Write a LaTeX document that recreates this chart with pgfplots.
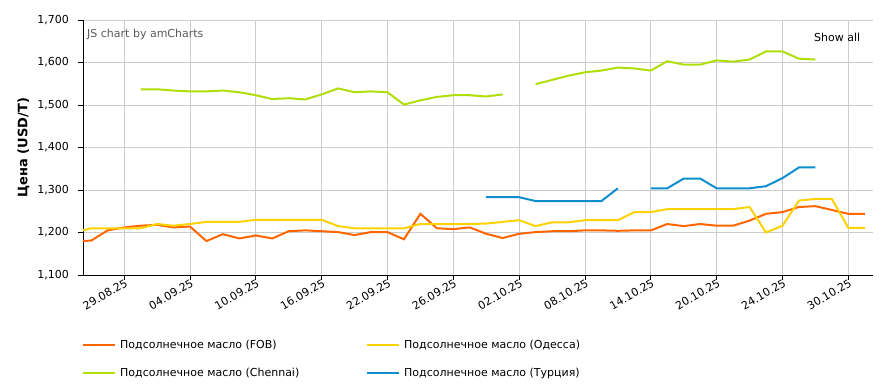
\documentclass[border=0pt]{standalone}
\usepackage{fontspec}
\setmainfont{DejaVu Sans}
\usepackage{pgfplots}
\usepackage{pgfplotstable}
\pgfplotsset{compat=1.18}
\definecolor{cfob}{HTML}{FF6600}
\definecolor{code}{HTML}{FCD202}
\definecolor{cche}{HTML}{B0DE09}
\definecolor{ctur}{HTML}{0D8ECF}
\definecolor{cgrid}{HTML}{CCCCCC}

\pgfplotstableread{
x y
-3 1179
-2 1181
-1 1205
0 1212
1 1216
2 1218
3 1212
4 1214
5 1180
6 1196
7 1186
8 1193
9 1186
10 1203
11 1205
12 1203
13 1201
14 1194
15 1201
16 1201
17 1184
18 1244
19 1210
20 1208
21 1212
22 1197
23 1187
24 1197
25 1201
26 1203
27 1203
28 1205
29 1205
30 1204
31 1205
32 1205
33 1220
34 1215
35 1220
36 1216
37 1216
38 1228
39 1244
40 1248
41 1260
42 1262
43 1253
44 1244
45 1244
}\fob

\pgfplotstableread{
x y
-3 1200
-2 1210
-1 1210
0 1210
1 1210
2 1220
3 1216
4 1220
5 1225
6 1225
7 1225
8 1230
9 1230
10 1230
11 1230
12 1230
13 1215
14 1210
15 1210
16 1210
17 1210
18 1220
19 1220
20 1220
21 1220
22 1221
23 1225
24 1229
25 1215
26 1224
27 1224
28 1229
29 1229
30 1229
31 1248
32 1248
33 1255
34 1255
35 1255
36 1255
37 1255
38 1260
39 1200
40 1216
41 1275
42 1279
43 1279
44 1211
45 1211
}\odessa

\pgfplotstableread{
x y
1 1537
2 1537
3 1534
4 1532
5 1532
6 1534
7 1530
8 1523
9 1514
10 1516
11 1513
12 1525
13 1539
14 1530
15 1532
16 1530
17 1501
18 1511
19 1519
20 1523
21 1523
22 1520
23 1525
24 nan
25 1549
26 1559
27 1569
28 1577
29 1581
30 1588
31 1586
32 1581
33 1603
34 1595
35 1595
36 1605
37 1602
38 1607
39 1626
40 1626
41 1609
42 1607
}\chennai

\pgfplotstableread{
x y
22 1283
23 1283
24 1283
25 1274
26 1274
27 1274
28 1274
29 1274
30 1304
31 nan
32 1304
33 1304
34 1327
35 1327
36 1304
37 1304
38 1304
39 1309
40 1328
41 1353
42 1353
}\turkey

\begin{document}
\begin{tikzpicture}
\path[use as bounding box] (-83pt,-111pt) rectangle (813pt,275pt);
\begin{axis}[
  at={(0pt,0pt)}, anchor=south west,
  scale only axis,
  width=790pt, height=255pt,
  xmin=-2.5, xmax=45.5,
  ymin=1100, ymax=1700,
  axis x line*=bottom, axis y line*=left,
  axis line style={black, line width=0.9pt},
  xtick={0,4,...,44},
  xticklabels={29.08.25,04.09.25,10.09.25,16.09.25,22.09.25,26.09.25,02.10.25,08.10.25,14.10.25,20.10.25,24.10.25,30.10.25},
  ytick={1100,1200,...,1700},
  tick align=outside,
  major tick length=5pt,
  tick style={black, line width=0.8pt},
  grid=major,
  grid style={cgrid, line width=0.8pt},
  /pgf/number format/.cd, 1000 sep={,}, assume math mode=true,
  /pgfplots/.cd,
  ticklabel style={font=\fontsize{11}{13}\selectfont, text=black},
  xticklabel style={rotate=30, anchor=east, inner sep=1pt, yshift=-3pt, xshift=2pt},
  yticklabel style={anchor=east, inner sep=0pt, xshift=-9pt},
  unbounded coords=jump,
  clip=true,
]
\addplot[cfob, line width=2pt] table[x=x,y=y] {\fob};
\addplot[code, line width=2pt] table[x=x,y=y] {\odessa};
\addplot[cche, line width=2pt] table[x=x,y=y] {\chennai};
\addplot[ctur, line width=2pt] table[x=x,y=y] {\turkey};
\end{axis}
\node[anchor=west, text=black!65, font=\fontsize{11}{13}\selectfont, inner sep=0pt] at (4pt,241pt) {JS chart by amCharts};
\node[anchor=west, text=black, font=\fontsize{11}{13}\selectfont, inner sep=0pt] at (731pt,237.5pt) {Show all};
\node[rotate=90, font=\fontsize{13}{15}\selectfont\bfseries, inner sep=0pt] at (-59.5pt,127.5pt) {Цена (USD/T)};
% legend
\draw[cfob, line width=2pt] (0pt,-70pt) -- (32pt,-70pt);
\node[anchor=west, inner sep=0pt, font=\fontsize{11}{13}\selectfont] at (37pt,-70pt) {Подсолнечное масло (FOB)};
\draw[code, line width=2pt] (284pt,-70pt) -- (316pt,-70pt);
\node[anchor=west, inner sep=0pt, font=\fontsize{11}{13}\selectfont] at (321pt,-70pt) {Подсолнечное масло (Одесса)};
\draw[cche, line width=2pt] (0pt,-98pt) -- (32pt,-98pt);
\node[anchor=west, inner sep=0pt, font=\fontsize{11}{13}\selectfont] at (37pt,-98pt) {Подсолнечное масло (Chennai)};
\draw[ctur, line width=2pt] (284pt,-98pt) -- (316pt,-98pt);
\node[anchor=west, inner sep=0pt, font=\fontsize{11}{13}\selectfont] at (321pt,-98pt) {Подсолнечное масло (Турция)};
\end{tikzpicture}
\end{document}
